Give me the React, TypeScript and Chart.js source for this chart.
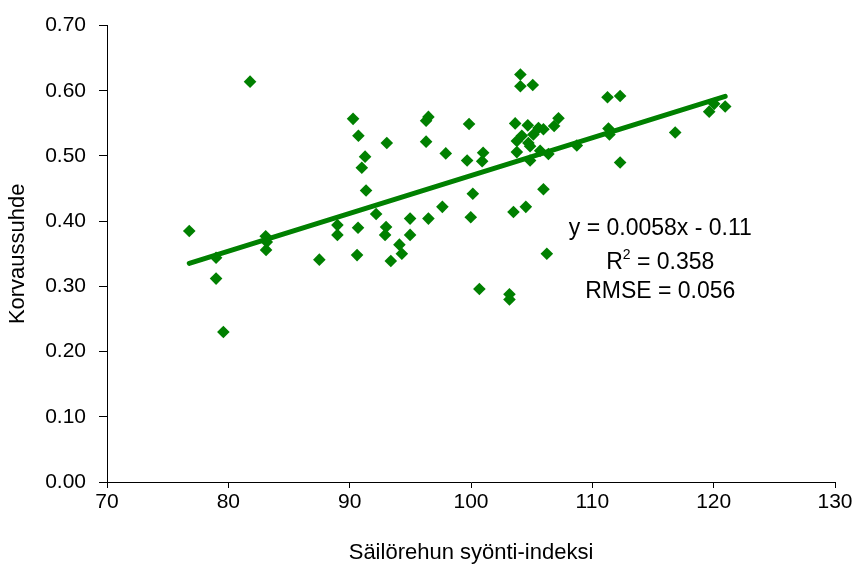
import React, { useEffect, useRef } from "react";
import { Chart, registerables } from "chart.js";

Chart.register(...registerables);

// ---- Data ----
const feedIndex: number[] = [
  76.78, 78.99, 78.99, 79.59, 81.79, 83.08, 83.17, 83.11, 87.5, 88.99,
  88.99, 90.28, 90.72, 90.69, 90.61, 91.27, 91.0, 91.35, 92.18, 93.06,
  93.0, 92.92, 93.39, 94.1, 94.3, 94.98, 94.98, 96.49, 96.3, 96.3,
  96.49, 97.64, 97.92, 99.84, 99.68, 99.98, 100.15, 100.69, 101.0, 100.92,
  103.17, 103.17, 103.5, 104.52, 104.07, 104.07, 105.09, 103.64, 104.68, 103.78,
  104.19, 104.73, 105.14, 105.56, 105.97, 103.78, 104.87, 104.87, 105.7, 106.38,
  105.97, 106.25, 107.21, 106.85, 108.72, 111.25, 112.29, 111.33, 111.41, 112.29,
  116.83, 119.63, 120.04, 120.95,
];
const feedRatio: number[] = [
  0.385, 0.344, 0.312, 0.23, 0.614, 0.377, 0.368, 0.356, 0.341, 0.394,
  0.379, 0.557, 0.531, 0.39, 0.348, 0.499, 0.482, 0.447, 0.411, 0.52,
  0.391, 0.379, 0.339, 0.364, 0.35, 0.404, 0.379, 0.56, 0.554, 0.522,
  0.404, 0.422, 0.504, 0.549, 0.493, 0.406, 0.442, 0.296, 0.505, 0.492,
  0.288, 0.28, 0.414, 0.422, 0.625, 0.607, 0.609, 0.55, 0.547, 0.523,
  0.531, 0.52, 0.533, 0.543, 0.541, 0.506, 0.493, 0.515, 0.508, 0.503,
  0.449, 0.35, 0.558, 0.546, 0.516, 0.59, 0.592, 0.542, 0.533, 0.49,
  0.536, 0.568, 0.58, 0.576,
];

// Trend line coefficients and statistics shown in the chart
const SLOPE = 0.0058;
const INTERCEPT = -0.11;
const R2 = "0.358";
const RMSE = "0.056";

// Axis ticks
const xTicks: number[] = [70, 80, 90, 100, 110, 120, 130];
const yTicks: number[] = [0, 0.1, 0.2, 0.3, 0.4, 0.5, 0.6, 0.7];

const X_TITLE = "Säilörehun syönti-indeksi";
const Y_TITLE = "Korvaussuhde";

const GREEN = "#008000";
const FONT = '"Liberation Sans", Arial, Helvetica, sans-serif';

// Annotation placement (data coordinates)
const ANN_X = 115.6;
const ANN_Y = [0.388, 0.336, 0.292];

const annotationPlugin = {
  id: "equationText",
  afterDatasetsDraw(chart: any) {
    const { ctx, scales } = chart;
    const xs = scales.x;
    const ys = scales.y;
    const cx = xs.getPixelForValue(ANN_X);
    ctx.save();
    ctx.fillStyle = "#000";
    ctx.textBaseline = "middle";
    const mainFont = `23px ${FONT}`;
    const supFont = `14px ${FONT}`;
    ctx.font = mainFont;
    ctx.textAlign = "center";
    const sign = INTERCEPT < 0 ? "-" : "+";
    const eq = `y = ${SLOPE}x ${sign} ${Math.abs(INTERCEPT)}`;
    ctx.fillText(eq, cx, ys.getPixelForValue(ANN_Y[0]));

    // R² line with superscript
    const y2 = ys.getPixelForValue(ANN_Y[1]);
    ctx.textAlign = "left";
    const partA = "R";
    const partC = ` = ${R2}`;
    const wA = ctx.measureText(partA).width;
    const wC = ctx.measureText(partC).width;
    ctx.font = supFont;
    const wB = ctx.measureText("2").width;
    const total = wA + wB + wC;
    let px = cx - total / 2;
    ctx.font = mainFont;
    ctx.fillText(partA, px, y2);
    px += wA;
    ctx.font = supFont;
    ctx.fillText("2", px, y2 - 8);
    px += wB;
    ctx.font = mainFont;
    ctx.fillText(partC, px, y2);

    ctx.textAlign = "center";
    ctx.fillText(`RMSE = ${RMSE}`, cx, ys.getPixelForValue(ANN_Y[2]));
    ctx.restore();
  },
};

export default function App() {
  const canvasRef = useRef<HTMLCanvasElement | null>(null);

  useEffect(() => {
    const canvas = canvasRef.current;
    if (!canvas) return;

    const points = feedIndex.map((x, i) => ({ x, y: feedRatio[i] }));
    const minX = Math.min(...feedIndex);
    const maxX = Math.max(...feedIndex);
    const trend = [
      { x: minX, y: SLOPE * minX + INTERCEPT },
      { x: maxX, y: SLOPE * maxX + INTERCEPT },
    ];

    const chart = new Chart(canvas, {
      type: "scatter",
      data: {
        datasets: [
          {
            label: "Trend",
            data: trend,
            showLine: true,
            borderColor: GREEN,
            borderWidth: 5,
            borderCapStyle: "round",
            pointRadius: 0,
            fill: false,
            order: 0,
          } as any,
          {
            label: "Havainnot",
            data: points,
            pointStyle: "rectRot",
            pointRadius: 6.3,
            pointHoverRadius: 6.3,
            backgroundColor: GREEN,
            borderColor: GREEN,
            borderWidth: 0,
            showLine: false,
            order: 1,
          } as any,
        ],
      },
      options: {
        animation: false,
        responsive: false,
        maintainAspectRatio: false,
        devicePixelRatio: 1,
        layout: { padding: { left: 0, top: 22, right: 21, bottom: 0 } },
        plugins: {
          legend: { display: false },
          tooltip: { enabled: false },
          title: { display: false },
        },
        scales: {
          x: {
            type: "linear",
            min: xTicks[0],
            max: xTicks[xTicks.length - 1],
            afterBuildTicks: (scale: any) => {
              scale.ticks = xTicks.map((v) => ({ value: v }));
            },
            afterFit: (scale: any) => {
              scale.height = 84;
            },
            ticks: {
              color: "#000",
              font: { family: FONT, size: 21 },
              padding: 2,
              maxRotation: 0,
              autoSkip: false,
            },
            grid: {
              display: true,
              drawOnChartArea: false,
              drawTicks: true,
              tickLength: 6,
              color: "#000",
            },
            border: { display: true, color: "#000", width: 1 },
            title: {
              display: true,
              text: X_TITLE,
              color: "#000",
              font: { family: FONT, size: 22 },
              padding: { top: 0, bottom: 0 },
            },
          },
          y: {
            type: "linear",
            min: yTicks[0],
            max: yTicks[yTicks.length - 1],
            afterBuildTicks: (scale: any) => {
              scale.ticks = yTicks.map((v) => ({ value: v }));
            },
            afterFit: (scale: any) => {
              scale.width = 107;
            },
            ticks: {
              color: "#000",
              font: { family: FONT, size: 21 },
              padding: 13,
              autoSkip: false,
              callback: (v: any) => Number(v).toFixed(2),
            },
            grid: {
              display: true,
              drawOnChartArea: false,
              drawTicks: true,
              tickLength: 8,
              color: "#000",
            },
            border: { display: true, color: "#000", width: 1 },
            title: {
              display: true,
              text: Y_TITLE,
              color: "#000",
              font: { family: FONT, size: 22 },
              padding: { top: 5, bottom: 0 },
            },
          },
        },
      },
      plugins: [annotationPlugin],
    });

    return () => {
      chart.destroy();
    };
  }, []);

  return (
    <div style={{ position: "absolute", left: 0, top: 0, width: 856, height: 566, background: "#fff" }}>
      <canvas ref={canvasRef} width={856} height={566} style={{ display: "block", width: 856, height: 566 }} />
    </div>
  );
}
